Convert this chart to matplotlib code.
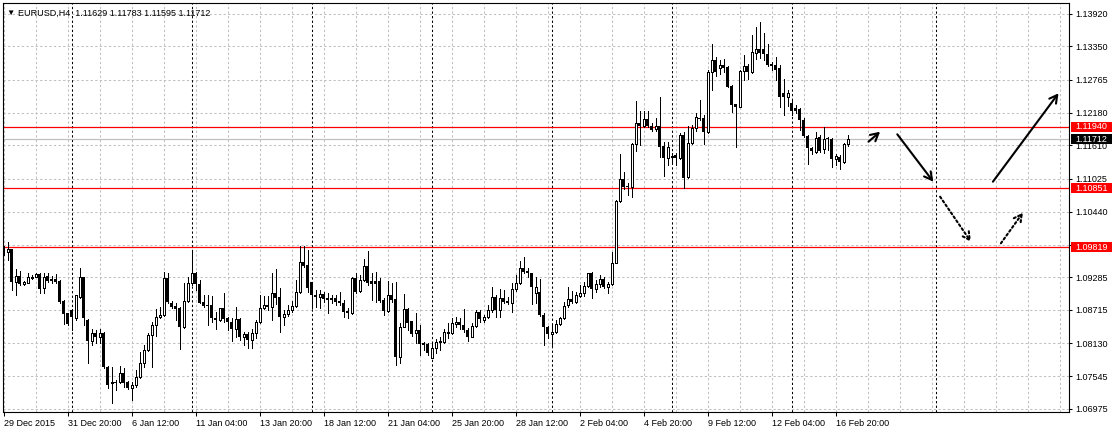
import numpy as np
import matplotlib.pyplot as plt
from matplotlib.patches import Rectangle
import matplotlib.transforms as mtransforms

plt.rcParams['font.family'] = ['Liberation Sans', 'DejaVu Sans']

# EURUSD H4 candles
opens = [
    1.09814, 1.09726, 1.09785, 1.09210, 1.09310, 1.09163, 1.09192, 1.09280, 1.09298, 1.09345,
    1.09093, 1.09310, 1.09257, 1.09257, 1.09228, 1.08876, 1.08653, 1.08711, 1.08577, 1.08946,
    1.09286, 1.08535, 1.08172, 1.08301, 1.08230, 1.08301, 1.07714, 1.07421, 1.07450, 1.07450,
    1.07597, 1.07450, 1.07333, 1.07392, 1.07538, 1.07785, 1.08008, 1.08272, 1.08447, 1.08582,
    1.08623, 1.09269, 1.08829, 1.08782, 1.08741, 1.08406, 1.08870, 1.09181, 1.09368, 1.09169,
    1.08858, 1.08799, 1.08799, 1.08577, 1.08535, 1.08741, 1.08565, 1.08506, 1.08377, 1.08547,
    1.08230, 1.08289, 1.08184, 1.08301, 1.08500, 1.08741, 1.08799, 1.08770, 1.09005, 1.08946,
    1.08594, 1.08641, 1.08711, 1.08782, 1.09034, 1.09562, 1.09503, 1.09198, 1.08975, 1.08946,
    1.08987, 1.08917, 1.08917, 1.08917, 1.08876, 1.08840, 1.08700, 1.08653, 1.09269, 1.09046,
    1.09239, 1.09486, 1.09222, 1.09222, 1.09222, 1.08887, 1.08700, 1.08969, 1.08899, 1.07890,
    1.08418, 1.08723, 1.08518, 1.08301, 1.08359, 1.08125, 1.08113, 1.07873, 1.08037, 1.08142,
    1.08142, 1.08301, 1.08301, 1.08465, 1.08500, 1.08447, 1.08359, 1.08242, 1.08430, 1.08682,
    1.08535, 1.08582, 1.08711, 1.08946, 1.08711, 1.08917, 1.08876, 1.08829, 1.09075, 1.09192,
    1.09445, 1.09403, 1.09357, 1.09016, 1.09034, 1.08623, 1.08406, 1.08289, 1.08330, 1.08465,
    1.08565, 1.08800, 1.08899, 1.08858, 1.08964, 1.09017, 1.09134, 1.09357, 1.09075, 1.09169,
    1.09250, 1.09110, 1.09169, 1.09545, 1.10635, 1.11011, 1.10893, 1.10882, 1.11633, 1.12008,
    1.11949, 1.12067, 1.11949, 1.11891, 1.11949, 1.11598, 1.11381, 1.11410, 1.11439, 1.11381,
    1.11791, 1.11046, 1.11644, 1.11920, 1.12084, 1.12084, 1.11850, 1.12905, 1.13110, 1.12964,
    1.13023, 1.12982, 1.12653, 1.12336, 1.12289, 1.12923, 1.13005, 1.12905, 1.13239, 1.13298,
    1.13298, 1.13216, 1.13040, 1.13023, 1.12964, 1.12524, 1.12454, 1.12348, 1.12260, 1.12243,
    1.12055, 1.11773, 1.11557, 1.11498, 1.11756, 1.11539, 1.11739, 1.11727, 1.11363, 1.11410,
    1.11322, 1.11629,
]
highs = [
    1.09837, 1.09902, 1.09790, 1.09427, 1.09403, 1.09222, 1.09368, 1.09327, 1.09368, 1.09368,
    1.09368, 1.09368, 1.09310, 1.09345, 1.09240, 1.08887, 1.08665, 1.08729, 1.08975, 1.09445,
    1.09298, 1.08547, 1.08371, 1.08359, 1.08371, 1.08330, 1.07726, 1.07714, 1.07480, 1.07726,
    1.07685, 1.07462, 1.07450, 1.07656, 1.07978, 1.08096, 1.08301, 1.08506, 1.08735, 1.08770,
    1.09386, 1.09368, 1.08876, 1.08829, 1.08758, 1.09181, 1.09298, 1.09767, 1.09386, 1.09239,
    1.08975, 1.08975, 1.08958, 1.08682, 1.08745, 1.09005, 1.08594, 1.08565, 1.08758, 1.08565,
    1.08330, 1.08330, 1.08371, 1.08535, 1.08969, 1.08958, 1.08958, 1.09368, 1.09427, 1.09093,
    1.08711, 1.08799, 1.08876, 1.09239, 1.09837, 1.09837, 1.09767, 1.09210, 1.09063, 1.09063,
    1.09034, 1.09005, 1.08975, 1.08975, 1.09034, 1.08887, 1.08741, 1.09298, 1.09368, 1.09327,
    1.09603, 1.09755, 1.09357, 1.09386, 1.09269, 1.08917, 1.09228, 1.09181, 1.09210, 1.08477,
    1.08987, 1.08741, 1.08524, 1.08653, 1.08447, 1.08154, 1.08125, 1.08154, 1.08195, 1.08242,
    1.08371, 1.08489, 1.08565, 1.08582, 1.08565, 1.08723, 1.08389, 1.08477, 1.08711, 1.08711,
    1.08623, 1.08799, 1.09122, 1.08975, 1.09075, 1.09063, 1.08946, 1.09181, 1.09327, 1.09580,
    1.09650, 1.09445, 1.09360, 1.09298, 1.09251, 1.08664, 1.08430, 1.08447, 1.08535, 1.08582,
    1.08858, 1.09122, 1.09052, 1.09034, 1.09152, 1.09210, 1.09369, 1.09386, 1.09240, 1.09327,
    1.09286, 1.09210, 1.09738, 1.10647, 1.11457, 1.11146, 1.10940, 1.11645, 1.12395, 1.12219,
    1.12219, 1.12219, 1.12008, 1.12084, 1.12454, 1.11674, 1.11674, 1.11470, 1.11468, 1.11832,
    1.11850, 1.11949, 1.11967, 1.12172, 1.12407, 1.12143, 1.12935, 1.13392, 1.13169, 1.13110,
    1.13122, 1.13005, 1.12671, 1.12342, 1.12935, 1.13199, 1.13040, 1.13550, 1.13697, 1.13785,
    1.13580, 1.13392, 1.13081, 1.13169, 1.13023, 1.12770, 1.12583, 1.12407, 1.12319, 1.12260,
    1.12084, 1.11791, 1.11586, 1.11850, 1.11791, 1.11938, 1.11762, 1.11744, 1.11457, 1.11439,
    1.11656, 1.11783,
]
lows = [
    1.09679, 1.09591, 1.09063, 1.08975, 1.09151, 1.09151, 1.09181, 1.09251, 1.09286, 1.09005,
    1.09016, 1.09210, 1.09192, 1.09181, 1.08829, 1.08465, 1.08450, 1.08359, 1.08535, 1.08917,
    1.08447, 1.07785, 1.08096, 1.08137, 1.08137, 1.07685, 1.07333, 1.07081, 1.07304, 1.07421,
    1.07362, 1.07316, 1.07128, 1.07362, 1.07509, 1.07714, 1.07996, 1.07714, 1.08254, 1.08565,
    1.08606, 1.08840, 1.08741, 1.08535, 1.08020, 1.08389, 1.08858, 1.09151, 1.09063, 1.08829,
    1.08770, 1.08447, 1.08506, 1.08371, 1.08524, 1.08506, 1.08359, 1.08166, 1.08242, 1.08184,
    1.08096, 1.08037, 1.08037, 1.08213, 1.08489, 1.08723, 1.08711, 1.08535, 1.08817, 1.08330,
    1.08447, 1.08606, 1.08682, 1.08770, 1.09005, 1.09462, 1.09034, 1.08741, 1.08770, 1.08741,
    1.08858, 1.08664, 1.08829, 1.08799, 1.08799, 1.08582, 1.08565, 1.08641, 1.09016, 1.09034,
    1.09228, 1.09151, 1.08887, 1.08858, 1.08858, 1.08623, 1.08682, 1.08858, 1.07744, 1.07785,
    1.08406, 1.08359, 1.08254, 1.08125, 1.07920, 1.08008, 1.07920, 1.07861, 1.07961, 1.08008,
    1.08125, 1.08213, 1.08289, 1.08418, 1.08371, 1.08330, 1.08172, 1.08230, 1.08406, 1.08506,
    1.08506, 1.08565, 1.08682, 1.08582, 1.08582, 1.08829, 1.08817, 1.08682, 1.09051, 1.09169,
    1.09357, 1.09298, 1.08817, 1.08840, 1.08606, 1.08096, 1.08213, 1.08096, 1.08313, 1.08447,
    1.08547, 1.08770, 1.08840, 1.08830, 1.08946, 1.08958, 1.09122, 1.08917, 1.09034, 1.09122,
    1.09093, 1.09017, 1.09152, 1.09533, 1.10618, 1.10835, 1.10735, 1.10694, 1.11515, 1.11615,
    1.11937, 1.11926, 1.11867, 1.11867, 1.11410, 1.11070, 1.11263, 1.11293, 1.11263, 1.11363,
    1.10853, 1.11029, 1.11633, 1.11867, 1.12055, 1.11627, 1.11832, 1.12583, 1.12829, 1.12864,
    1.12905, 1.12630, 1.12202, 1.11586, 1.12278, 1.12759, 1.12770, 1.12888, 1.13122, 1.13140,
    1.13110, 1.13005, 1.12935, 1.12759, 1.12278, 1.12143, 1.12301, 1.12143, 1.12172, 1.11879,
    1.11762, 1.11280, 1.11457, 1.11480, 1.11498, 1.11469, 1.11527, 1.11234, 1.11263, 1.11187,
    1.11304, 1.11595,
]
closes = [
    1.09697, 1.09785, 1.09210, 1.09310, 1.09163, 1.09198, 1.09286, 1.09298, 1.09345, 1.09087,
    1.09286, 1.09228, 1.09228, 1.09210, 1.08858, 1.08635, 1.08465, 1.08582, 1.08969, 1.09286,
    1.08565, 1.08172, 1.08301, 1.08230, 1.08301, 1.07714, 1.07392, 1.07450, 1.07421, 1.07597,
    1.07433, 1.07333, 1.07392, 1.07538, 1.07773, 1.08008, 1.08272, 1.08447, 1.08582, 1.08623,
    1.09269, 1.08858, 1.08770, 1.08723, 1.08406, 1.08870, 1.09181, 1.09368, 1.09169, 1.08840,
    1.08782, 1.08782, 1.08577, 1.08535, 1.08741, 1.08547, 1.08506, 1.08377, 1.08547, 1.08230,
    1.08289, 1.08184, 1.08301, 1.08500, 1.08741, 1.08799, 1.08764, 1.09005, 1.08928, 1.08594,
    1.08641, 1.08711, 1.08782, 1.09034, 1.09562, 1.09491, 1.09104, 1.08975, 1.08946, 1.08987,
    1.08905, 1.08887, 1.08887, 1.08858, 1.08829, 1.08682, 1.08653, 1.09269, 1.09034, 1.09239,
    1.09486, 1.09181, 1.09163, 1.09163, 1.08876, 1.08700, 1.08975, 1.08887, 1.07890, 1.08418,
    1.08723, 1.08477, 1.08289, 1.08359, 1.08113, 1.08096, 1.07949, 1.08037, 1.08154, 1.08166,
    1.08330, 1.08330, 1.08477, 1.08506, 1.08447, 1.08359, 1.08242, 1.08430, 1.08682, 1.08547,
    1.08582, 1.08711, 1.08946, 1.08711, 1.08917, 1.08846, 1.08829, 1.09075, 1.09192, 1.09445,
    1.09386, 1.09357, 1.09110, 1.09122, 1.08623, 1.08406, 1.08289, 1.08330, 1.08465, 1.08565,
    1.08782, 1.08899, 1.08858, 1.08975, 1.09017, 1.09134, 1.09357, 1.09075, 1.09163, 1.09250,
    1.09110, 1.09169, 1.09545, 1.10635, 1.11011, 1.10870, 1.10870, 1.11633, 1.12008, 1.11949,
    1.12067, 1.11949, 1.11879, 1.11949, 1.11586, 1.11381, 1.11586, 1.11416, 1.11381, 1.11791,
    1.11029, 1.11644, 1.11920, 1.12102, 1.12067, 1.11850, 1.12905, 1.13110, 1.12905, 1.13023,
    1.12964, 1.12641, 1.12319, 1.12289, 1.12923, 1.13005, 1.12905, 1.13257, 1.13298, 1.13228,
    1.13216, 1.13023, 1.13005, 1.12935, 1.12454, 1.12454, 1.12524, 1.12219, 1.12219, 1.12055,
    1.11773, 1.11557, 1.11515, 1.11744, 1.11515, 1.11727, 1.11727, 1.11363, 1.11422, 1.11322,
    1.11633, 1.11712,
]

date_labels = ['29 Dec 2015', '31 Dec 20:00', '6 Jan 12:00', '11 Jan 04:00', '13 Jan 20:00',
               '18 Jan 12:00', '21 Jan 04:00', '25 Jan 20:00', '28 Jan 12:00', '2 Feb 04:00',
               '4 Feb 20:00', '9 Feb 12:00', '12 Feb 04:00', '16 Feb 20:00']
price_ticks = [1.06975, 1.07545, 1.08130, 1.08715, 1.09285, 1.09855, 1.10440,
               1.11025, 1.11610, 1.12180, 1.12765, 1.13350, 1.13920]
red_levels = [1.11940, 1.10851, 1.09819]
week_starts = [17, 47, 77, 107, 137, 167, 197, 233]

# forecast arrows: (x0, y0, x1, y1, dotted)
arrows = [
    (216.2, 1.11673, 219.1, 1.11849, False),
    (223.4, 1.11803, 232.4, 1.10969, False),
    (234.1, 1.10705, 241.8, 1.09913, True),
    (249.3, 1.09885, 254.8, 1.10424, True),
    (247.3, 1.10969, 263.7, 1.12525, False),
]

o = np.array(opens); h = np.array(highs); l = np.array(lows); c = np.array(closes)
x = np.arange(len(o))
bid = closes[-1]

fig = plt.figure(figsize=(11.12, 4.33), dpi=100)
ax = fig.add_axes([2.7 / 1112, 1 - 412.3 / 433, 1066 / 1112, 409.6 / 433])
ax.set_xlim(-0.25, 266.25)
ax.set_ylim(1.069115, 1.141188)

grid_kw = dict(color='#c0c0c0', linestyle=(0, (2.2, 2.2)), linewidth=0.75)
ax.set_axisbelow(True)
ax.set_xticks(np.arange(0, 16 * len(date_labels), 16))
ax.set_xticklabels(date_labels, ha='left')
ax.set_xticks(np.arange(0, 266, 8), minor=True)
ax.grid(True, which='both', axis='x', **grid_kw)
ax.set_yticks(price_ticks)
ax.set_yticklabels([f'{t:.5f}' for t in price_ticks])
ax.grid(True, which='major', axis='y', **grid_kw)
ax.yaxis.tick_right()
ax.tick_params(axis='x', which='major', length=3, width=0.75, pad=1.5, labelsize=6.5)
ax.tick_params(axis='x', which='minor', length=0)
ax.tick_params(axis='y', length=2.5, width=0.75, pad=2, labelsize=6.5)
for sp in ax.spines.values():
    sp.set_linewidth(0.8)
    sp.set_color('black')

# weekly separators
for w in week_starts:
    ax.axvline(w, color='black', linestyle=(0, (2.2, 2.2)), linewidth=0.75, zorder=1)

# levels
for lv in red_levels:
    ax.axhline(lv, color='#ff0000', linewidth=0.9, zorder=2)
ax.axhline(bid, color='#c0c0c0', linewidth=0.9, zorder=2)

# candles: wick, black bodies filled, white bodies outlined
up = c >= o
ax.vlines(x, l, h, color='black', linewidth=0.72, zorder=3, antialiased=False)
ax.bar(x[~up], (o - c)[~up], bottom=c[~up], width=0.72,
       color='black', edgecolor='none', zorder=4, antialiased=False)
ax.bar(x[up], (c - o)[up], bottom=o[up], width=0.5,
       color='white', edgecolor='black', linewidth=0.72, zorder=4, antialiased=False)

for x0, y0, x1, y1, dotted in arrows:
    ax.annotate('', xy=(x1, y1), xytext=(x0, y0),
                arrowprops=dict(arrowstyle='->,head_length=0.55,head_width=0.3',
                                color='black', lw=1.5, shrinkA=0, shrinkB=0,
                                linestyle=(0, (1, 1.3)) if dotted else '-'),
                zorder=5)

# price labels on the scale
trans = mtransforms.blended_transform_factory(ax.transAxes, ax.transData)
box_h = 10 * (1.141188 - 1.069115) / 409.6
for lv, col in [(lv, '#ff0000') for lv in red_levels] + [(bid, 'black')]:
    ax.add_patch(Rectangle((1.0022, lv - box_h / 2), 0.0385, box_h, transform=trans,
                           facecolor=col, edgecolor='none', clip_on=False, zorder=6))
    ax.text(1.0059, lv, f'{lv:.5f}', transform=trans, color='white', fontsize=6.5,
            va='center', ha='left', clip_on=False, zorder=7)

# header
ax.text(0.0031, 0.9749, '\u25bc', transform=ax.transAxes, fontsize=6, va='center', ha='left')
ax.text(0.0141, 0.9749, f'EURUSD,H4  {opens[-1]:.5f} {highs[-1]:.5f} {lows[-1]:.5f} {closes[-1]:.5f}',
        transform=ax.transAxes, fontsize=6.5, va='center', ha='left')

fig.savefig('out.png', dpi=100)
